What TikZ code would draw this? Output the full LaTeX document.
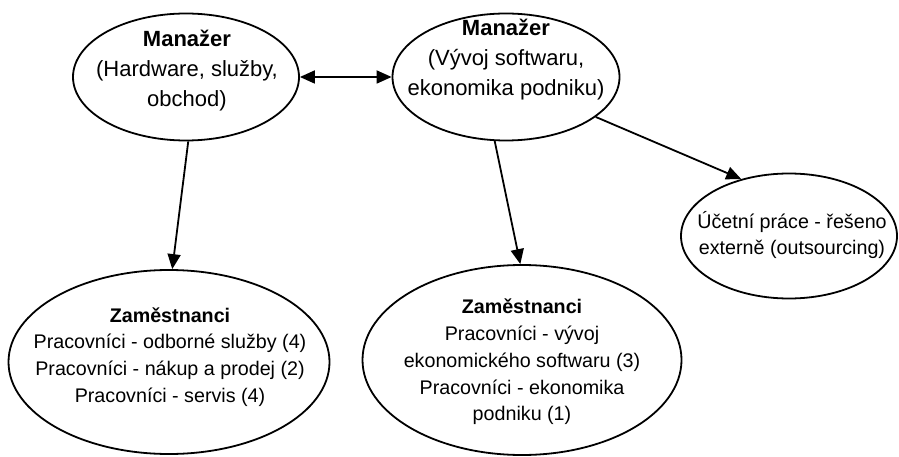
\documentclass[tikz,border=0pt]{standalone}
\usepackage{fontspec}
\setmainfont{Liberation Sans}
\usetikzlibrary{shapes.geometric,arrows.meta}
\tikzset{
  oval/.style={draw=black, line width=1.8pt, ellipse, inner sep=0pt},
  toptext/.style={align=center, inner sep=0pt, font=\fontsize{22}{30}\selectfont},
  bottext/.style={align=center, inner sep=0pt, font=\fontsize{19.7}{26.8}\selectfont},
  tip/.style={Triangle[length=15pt,width=13pt]},
  conn/.style={line width=1.8pt, -{Triangle[length=15pt,width=13pt]}},
  biconn/.style={line width=1.8pt, {Triangle[length=15pt,width=13pt]}-{Triangle[length=15pt,width=13pt]}}
}
\begin{document}
\begin{tikzpicture}[x=1pt,y=-1pt]
\useasboundingbox (0,0) rectangle (899,457);
\node[oval, minimum width=226pt, minimum height=127pt] (e1) at (186,77) {};
\node[oval, minimum width=227pt, minimum height=127pt] (e2) at (506,77) {};
\node[oval, minimum width=216pt, minimum height=125pt] (e3) at (789,236) {};
\node[oval, minimum width=321pt, minimum height=184pt] (e4) at (169,362) {};
\node[oval, minimum width=319pt, minimum height=190pt] (e5) at (522,360) {};
\node[toptext] (t1) at (187,71) {\textbf{Manažer}\\(Hardware, služby,\\obchod)};
\node[toptext] (t2) at (506,60) {\textbf{Manažer}\\(Vývoj softwaru,\\ekonomika podniku)};
\node[bottext] (t3) at (792,235) {Účetní práce - řešeno\\externě (outsourcing)};
\node[bottext] (t4) at (170,357) {\textbf{Zaměstnanci}\\Pracovníci - odborné služby (4)\\Pracovníci - nákup a prodej (2)\\Pracovníci - servis (4)};
\node[bottext] (t5) at (522,362) {\textbf{Zaměstnanci}\\Pracovníci - vývoj\\ekonomického softwaru (3)\\Pracovníci - ekonomika\\podniku (1)};
\draw[biconn] (e1.east) -- (e2.west);
\draw[conn] (e1.-88) -- (e4.88);
\draw[conn] (e2.-100) -- (e5.91);
\draw[conn] (e2.-24) -- (e3.130);
\end{tikzpicture}
\end{document}
